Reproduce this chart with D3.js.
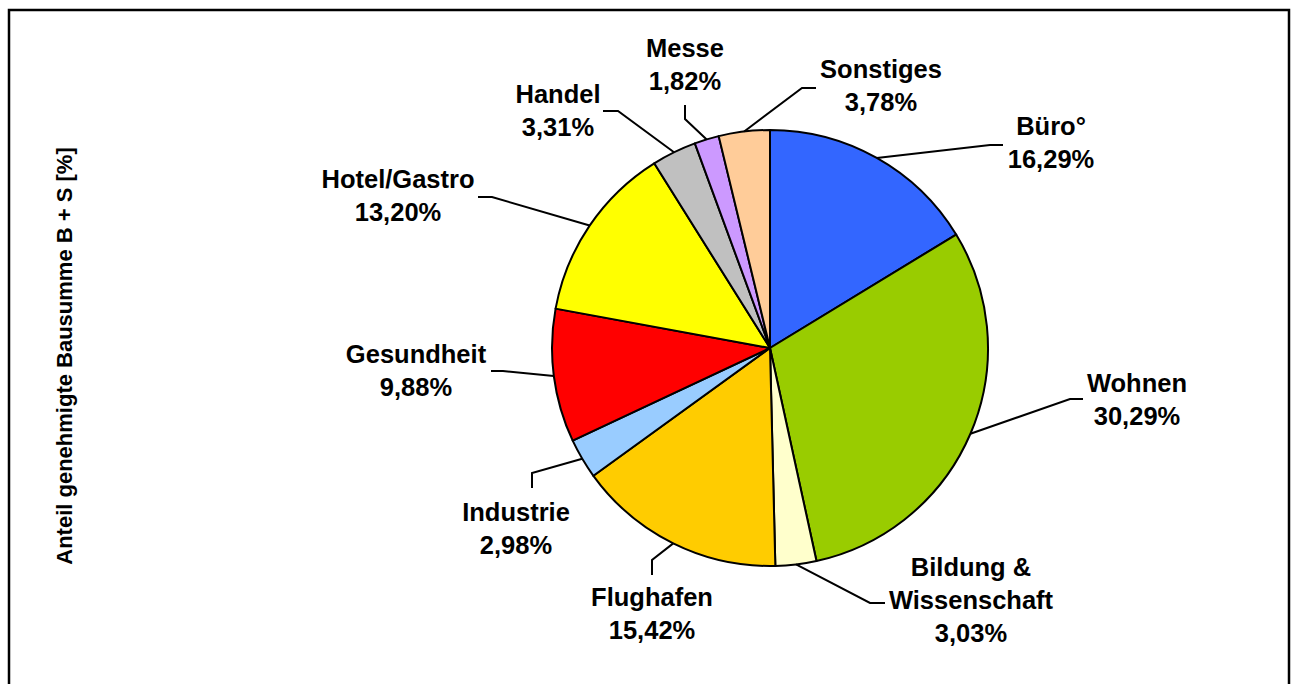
<!DOCTYPE html>
<html>
<head>
<meta charset="utf-8">
<script src="https://cdn.jsdelivr.net/npm/d3@7"></script>
<style>
  body { margin: 0; background: #fff; }
  svg { display: block; font-family: Arial, "Liberation Sans", sans-serif; }
</style>
</head>
<body>
<svg width="1293" height="684"></svg>
<script>
// Daten: Anteile je Nutzungsart (im Uhrzeigersinn ab 12 Uhr)
const categories = ["Büro°", "Wohnen", "Bildung & Wissenschaft", "Flughafen", "Industrie",
                    "Gesundheit", "Hotel/Gastro", "Handel", "Messe", "Sonstiges"];
const values = [16.29, 30.29, 3.03, 15.42, 2.98, 9.88, 13.20, 3.31, 1.82, 3.78];
const colors = ["#3366FF", "#99CC00", "#FFFFCC", "#FFCC00", "#99CCFF",
                "#FF0000", "#FFFF00", "#C0C0C0", "#CC99FF", "#FFCC99"];
const labelLines = [["Büro°"], ["Wohnen"], ["Bildung &", "Wissenschaft"], ["Flughafen"], ["Industrie"],
                    ["Gesundheit"], ["Hotel/Gastro"], ["Handel"], ["Messe"], ["Sonstiges"]];
const yTitle = "Anteil genehmigte Bausumme B + S [%]";

// Layout der Beschriftungen: Textmitte/erste Grundlinie, Knick und Ende der Führungslinie
const labelLayout = [
  { x: 1051, y: 135, elbow: [990, 145], end: [1003, 145] },
  { x: 1137, y: 392, elbow: [1070, 399], end: [1083, 399] },
  { x: 971,  y: 576, elbow: [870, 603], end: [885, 603] },
  { x: 652,  y: 606, elbow: [652, 560], end: [652, 575] },
  { x: 516,  y: 521, elbow: [532, 473], end: [532, 488] },
  { x: 416,  y: 363, elbow: [503, 371], end: [491, 371] },
  { x: 398,  y: 188, elbow: [492, 197], end: [478, 197] },
  { x: 558,  y: 103, elbow: [618, 111], end: [603, 111] },
  { x: 685,  y: 57,  elbow: [685, 119], end: [685, 105] },
  { x: 881,  y: 78,  elbow: [802, 88],  end: [816, 88] }
];

const svg = d3.select("svg");
const cx = 770, cy = 348, radius = 218;
const lineHeight = 33;

// Rahmen (unten offen, läuft aus dem Bild)
svg.append("rect")
    .attr("x", 9).attr("y", 10)
    .attr("width", 1280).attr("height", 720)
    .attr("fill", "none")
    .attr("stroke", "#000")
    .attr("stroke-width", 2.5);

// Achsentitel links
svg.append("text")
    .attr("transform", "translate(72,356) rotate(-90)")
    .attr("text-anchor", "middle")
    .attr("font-size", 22)
    .attr("font-weight", "bold")
    .text(yTitle);

const data = categories.map((c, i) => ({ name: c, value: values[i], color: colors[i], lines: labelLines[i] }));

const pie = d3.pie().sort(null).value(d => d.value);
const arcs = pie(data);

const arc = d3.arc().innerRadius(0).outerRadius(radius);

const group = svg.append("g").attr("transform", `translate(${cx},${cy})`);

group.selectAll("path")
    .data(arcs)
    .enter()
    .append("path")
    .attr("d", arc)
    .attr("fill", d => d.data.color)
    .attr("stroke", "#000")
    .attr("stroke-width", 2)
    .attr("stroke-linejoin", "round");

// Führungslinien vom Bogenmittelpunkt des Segments zur Beschriftung
const fmt = v => d3.format(".2f")(v).replace(".", ",") + "%";

arcs.forEach((d, i) => {
    const mid = (d.startAngle + d.endAngle) / 2;
    const sx = cx + Math.sin(mid) * radius;
    const sy = cy - Math.cos(mid) * radius;
    const lay = labelLayout[i];

    svg.append("polyline")
        .attr("points", [[sx, sy], lay.elbow, lay.end].map(p => p.join(",")).join(" "))
        .attr("fill", "none")
        .attr("stroke", "#000")
        .attr("stroke-width", 2);

    const lines = d.data.lines.concat([fmt(d.data.value)]);
    const t = svg.append("text")
        .attr("text-anchor", "middle")
        .attr("font-size", 25.5)
        .attr("font-weight", "bold");
    lines.forEach((l, k) => {
        t.append("tspan")
            .attr("x", lay.x)
            .attr("y", lay.y + k * lineHeight)
            .text(l);
    });
});
</script>
</body>
</html>
